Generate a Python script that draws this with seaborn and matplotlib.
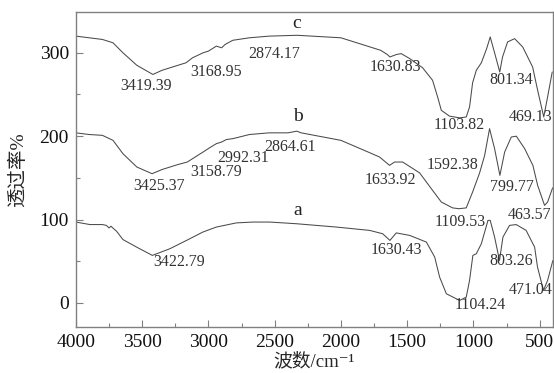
import matplotlib
matplotlib.use("Agg")
import matplotlib.pyplot as plt
import seaborn as sns
import pandas as pd
from matplotlib.ticker import MultipleLocator

# ---- data ----
c_w = [4000, 3900, 3800, 3720, 3645, 3540, 3419, 3350, 3290, 3230, 3169, 3120, 3040, 3000,
       2940, 2900, 2874, 2816, 2690, 2540, 2330, 2000, 1780, 1700, 1650, 1630, 1580, 1545,
       1480, 1383, 1308, 1270, 1242, 1180, 1104, 1054, 1029, 1006, 978, 940, 900, 873, 840,
       801, 780, 742, 689, 628, 553, 515, 469, 440, 405]
c_t = [320, 318, 316, 312, 300, 285, 274, 279, 282, 285, 288, 294, 300, 302,
       308, 306, 310, 315, 318, 320, 321, 318, 307, 303, 298, 295, 298, 299,
       293, 282, 267, 247, 231, 224, 222, 223, 235, 264, 279, 288, 305, 319, 300,
       277, 295, 313, 317, 307, 283, 255, 223, 247, 277]

b_w = [4000, 3900, 3800, 3720, 3645, 3540, 3425, 3350, 3290, 3230, 3159, 3100, 3040, 2992,
       2940, 2900, 2864, 2816, 2690, 2540, 2400, 2333, 2300, 2000, 1780, 1708, 1633, 1595,
       1534, 1406, 1308, 1242, 1157, 1109, 1054, 1006, 953, 915, 878, 840, 800, 764, 714,
       676, 613, 551, 515, 463, 440, 402]
b_t = [204, 202, 201, 195, 179, 163, 155, 160, 163, 166, 169, 175, 181, 186,
       191, 193, 196, 197, 202, 204, 204, 206, 204, 195, 180, 175, 165, 169,
       169, 156, 135, 121, 114, 113, 114, 133, 156, 177, 209, 185, 153, 181, 199,
       200, 185, 165, 141, 117, 121, 138]

a_w = [4000, 3894, 3800, 3770, 3750, 3735, 3715, 3693, 3645, 3542, 3423, 3291, 3165, 3042,
       2940, 2789, 2665, 2537, 2336, 2034, 1783, 1685, 1630, 1582, 1481, 1355, 1292, 1255,
       1204, 1104, 1054, 1029, 1004, 978, 940, 890, 873, 840, 803, 777, 727, 677, 602, 538,
       516, 471, 440, 400]
a_t = [97, 94, 94, 93, 90, 92, 89, 86, 76, 67, 57, 65, 75, 85,
       91, 96, 97, 97, 95, 91, 87, 83, 75, 84, 81, 73, 55, 31,
       11, 3, 7, 27, 57, 59, 71, 99, 99, 79, 51, 79, 93, 94, 87, 67,
       43, 15, 27, 51]

curve_names = ["a", "b", "c"]
curve_label_pos = [(2325, 111), (2325, 224), (2333, 335)]

# peak labels: text, x, y (data coords, text centre)
peak_texts = ["3419.39", "3168.95", "2874.17", "1630.83", "801.34", "1103.82", "469.13",
              "3425.37", "3158.79", "2992.31", "2864.61", "1633.92", "1592.38", "799.77",
              "1109.53", "463.57",
              "3422.79", "1630.43", "803.26", "1104.24", "471.04"]
peak_x = [3472, 2940, 2500, 1587, 712, 1104, 570,
          3374, 2944, 2740, 2386, 1625, 1157, 712,
          1097, 575,
          3223, 1580, 712, 945, 570]
peak_y = [260, 277, 298, 283, 267, 213, 223,
          140, 157, 174, 187, 147, 165, 139,
          97, 105,
          49, 63, 50, -3, 15]

x_label = "波数/cm⁻¹"
y_label = "透过率%"

# ---- plotting ----
sns.set_style("ticks")
fam = ["Liberation Serif", "Noto Sans CJK SC", "DejaVu Sans"]
plt.rcParams["font.family"] = fam

fig = plt.figure(figsize=(5.54, 3.73), dpi=100)
ax = fig.add_axes([0.137, 0.123, 0.861, 0.845])

line_col = "#4a4a4a"
for w, t in [(a_w, a_t), (b_w, b_t), (c_w, c_t)]:
    df = pd.DataFrame({"w": w, "t": t})
    sns.lineplot(data=df, x="w", y="t", sort=False, estimator=None,
                 color=line_col, linewidth=0.75, ax=ax)

for name, (x, y) in zip(curve_names, curve_label_pos):
    ax.text(x, y, name, fontsize=14, ha="center", va="center", color="#222222")

for s, x, y in zip(peak_texts, peak_x, peak_y):
    ax.text(x, y, s, fontsize=11.5, ha="center", va="center", color="#333333",
            clip_on=False)

ax.set_xlim(4000, 400)
ax.set_ylim(-29, 349)
ax.xaxis.set_major_locator(MultipleLocator(500))
ax.xaxis.set_minor_locator(MultipleLocator(250))
ax.yaxis.set_major_locator(MultipleLocator(100))
ax.yaxis.set_minor_locator(MultipleLocator(50))
ax.tick_params(which="both", direction="in", color="#808080", labelsize=14,
               labelcolor="#111111", top=False, right=False)
ax.tick_params(which="major", length=5, width=0.8, pad=5)
ax.tick_params(which="minor", length=3, width=0.8)
for sp in ax.spines.values():
    sp.set_color("#808080")
    sp.set_linewidth(1.0)
    sp.set_visible(True)

ax.set_xlabel(x_label, fontsize=13.5, labelpad=1, family=fam)
ax.set_ylabel(y_label, fontsize=14, labelpad=9, family=fam)

fig.savefig("out.png", dpi=100)
